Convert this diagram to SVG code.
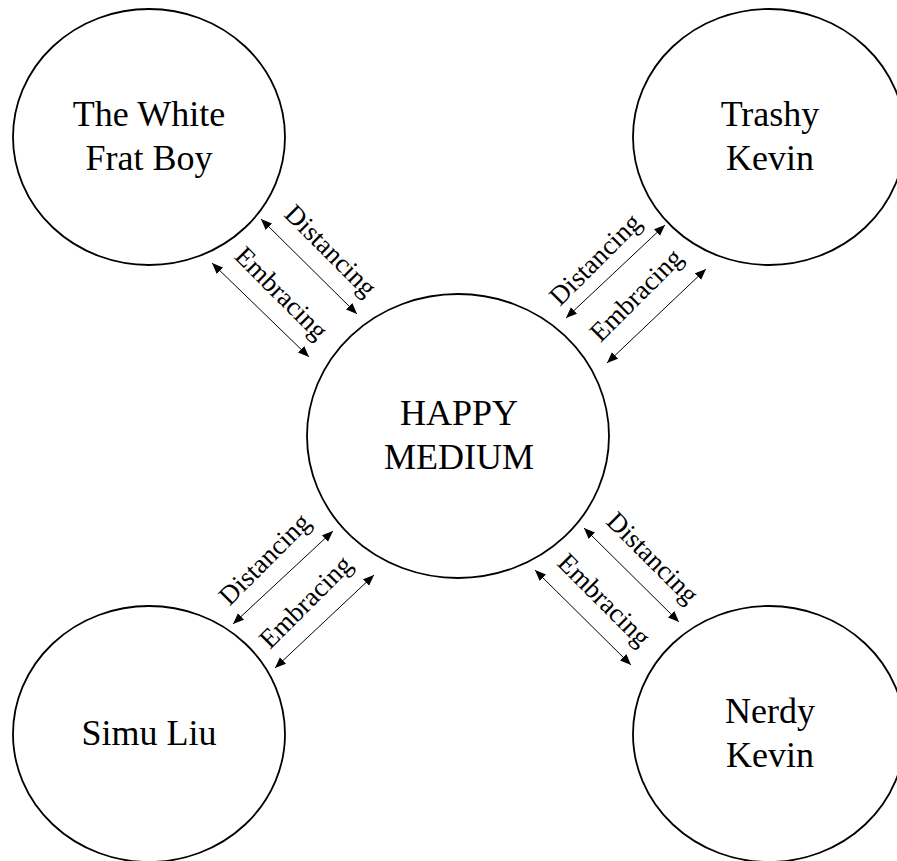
<svg xmlns="http://www.w3.org/2000/svg" width="897" height="861" viewBox="0 0 897 861">
<style>
.node ellipse{fill:#fff;stroke:#000;stroke-width:1.8}
.node text{font-family:"Liberation Serif","Times New Roman",serif;font-size:36px;fill:#000;text-anchor:middle}
.conn line{stroke:#000;stroke-width:1;marker-start:url(#ah);marker-end:url(#ah)}
.lbl{font-family:"Liberation Serif","Times New Roman",serif;font-size:27px;fill:#000;text-anchor:middle}
</style>
<defs>
<marker id="ah" markerUnits="userSpaceOnUse" markerWidth="12" markerHeight="10" refX="11" refY="4.5" orient="auto-start-reverse">
<path d="M0,0 L11,4.5 L0,9 z" fill="#000"/>
</marker>
</defs>
<rect width="897" height="861" fill="#fff"/>
<g id="frat-boy" class="node">
<ellipse cx="149" cy="137" rx="136" ry="128"/>
<text x="149" y="126">The White</text>
<text x="149" y="170">Frat Boy</text>
</g>
<g id="trashy-kevin" class="node">
<ellipse cx="769" cy="137" rx="136" ry="128"/>
<text x="770" y="126">Trashy</text>
<text x="770" y="170">Kevin</text>
</g>
<g id="happy-medium" class="node">
<ellipse cx="458" cy="436" rx="151" ry="142"/>
<text x="459" y="425">HAPPY</text>
<text x="459" y="469">MEDIUM</text>
</g>
<g id="simu-liu" class="node">
<ellipse cx="149" cy="734" rx="136" ry="128"/>
<text x="149" y="745">Simu Liu</text>
</g>
<g id="nerdy-kevin" class="node">
<ellipse cx="769" cy="734" rx="136" ry="128"/>
<text x="770" y="723">Nerdy</text>
<text x="770" y="767">Kevin</text>
</g>
<g id="connectors" class="conn">
<line x1="261" y1="219" x2="357" y2="314"/>
<line x1="212" y1="263" x2="309" y2="357"/>
<line x1="566" y1="318" x2="665" y2="225"/>
<line x1="607" y1="363" x2="706" y2="269"/>
<line x1="233" y1="624" x2="333" y2="531"/>
<line x1="275" y1="668" x2="374" y2="575"/>
<line x1="584" y1="528" x2="679" y2="622"/>
<line x1="535" y1="570" x2="631" y2="665"/>
</g>
<g id="labels">
<text class="lbl" transform="translate(324.4,256.9) rotate(45)">Distancing</text>
<text class="lbl" transform="translate(275.2,299.5) rotate(45)">Embracing</text>
<text class="lbl" transform="translate(601.4,265.6) rotate(-45)">Distancing</text>
<text class="lbl" transform="translate(642.4,301.4) rotate(-45)">Embracing</text>
<text class="lbl" transform="translate(270.8,565.3) rotate(-45)">Distancing</text>
<text class="lbl" transform="translate(311.9,608.1) rotate(-45)">Embracing</text>
<text class="lbl" transform="translate(646.4,564) rotate(45)">Distancing</text>
<text class="lbl" transform="translate(597.9,606.2) rotate(45)">Embracing</text>
</g>
</svg>
